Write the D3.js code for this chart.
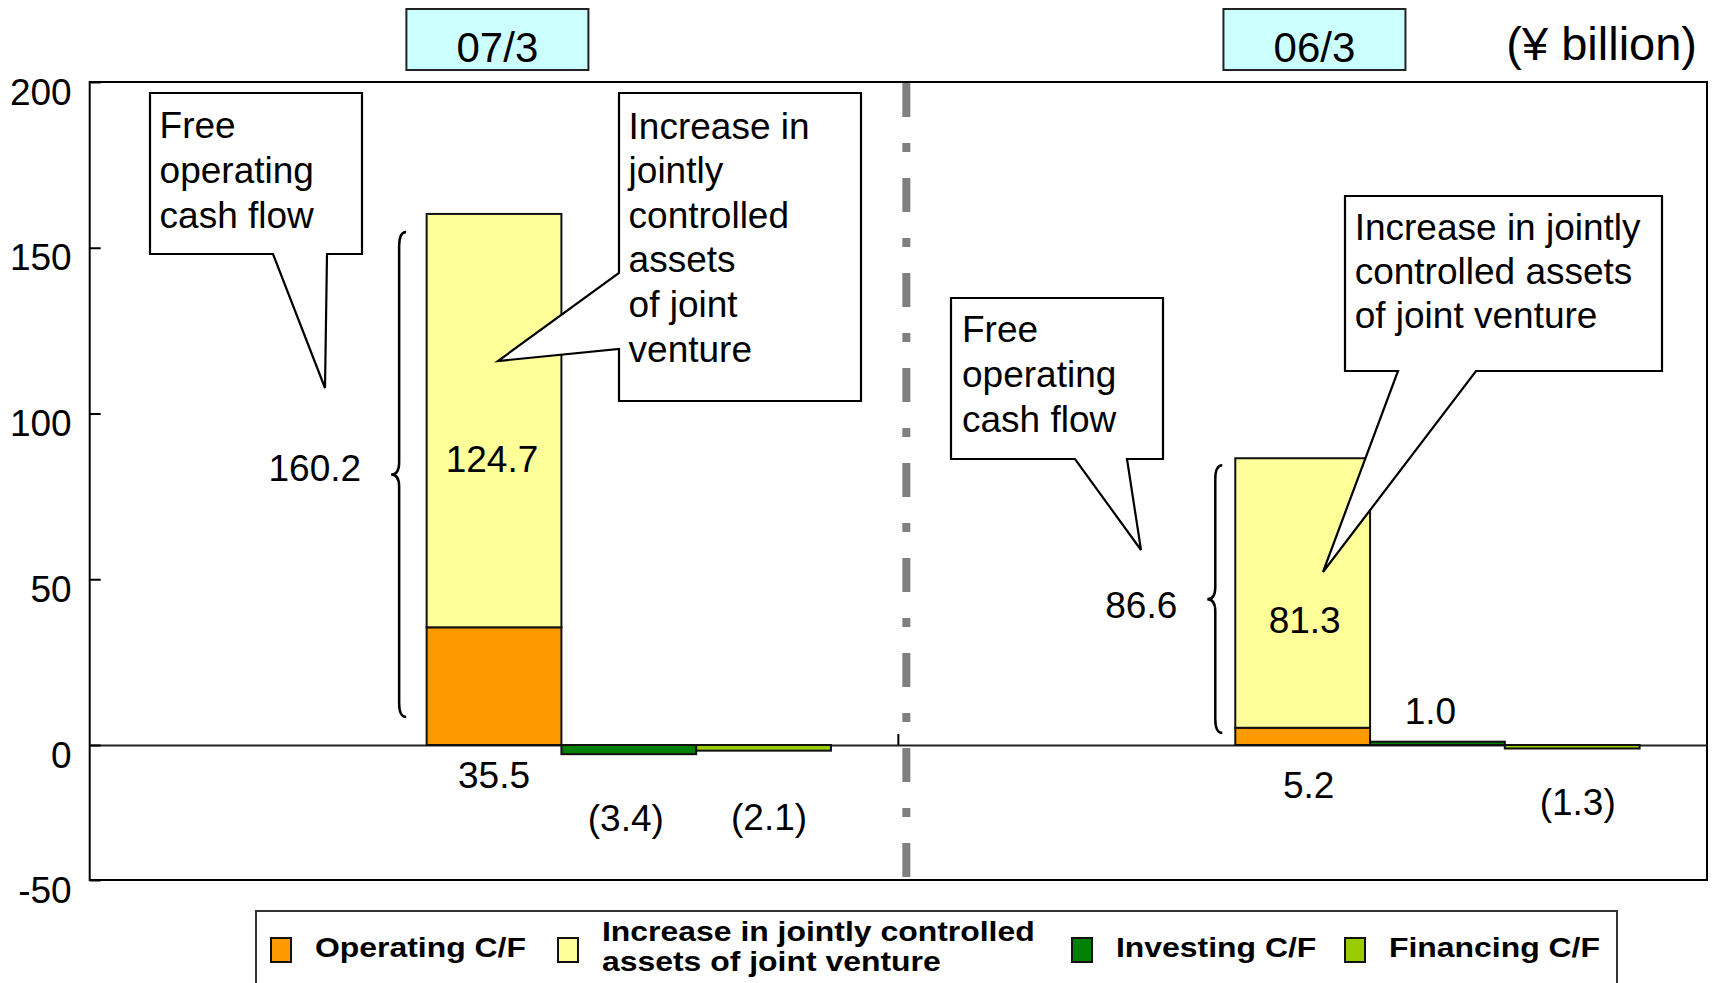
<!DOCTYPE html>
<html>
<head>
<meta charset="utf-8">
<script src="https://cdn.jsdelivr.net/npm/d3@7"></script>
<style>
  html, body { margin: 0; padding: 0; background: #fff; }
  svg { display: block; }
  text { font-family: "Liberation Sans", Arial, sans-serif; fill: #000; }
</style>
</head>
<body>
<svg id="chart" width="1715" height="983"></svg>
<script>
// ---------------- DATA ----------------
const periods = ["07/3", "06/3"];
const operatingCF = [35.5, 5.2];
const jvAssetIncrease = [124.7, 81.3];
const investingCF = [-3.4, 1.0];
const financingCF = [-2.1, -1.3];
const freeOperatingCF = [160.2, 86.6];
const yTickValues = [-50, 0, 50, 100, 150, 200];
const barSlots = ["stack", "investing", "financing"];
const unitLabel = "(¥ billion)";
const legendNames = [["Operating C/F"], ["Increase in jointly controlled", "assets of joint venture"], ["Investing C/F"], ["Financing C/F"]];
const focfCalloutText = ["Free", "operating", "cash flow"];
const jvCalloutText = [
  ["Increase in", "jointly", "controlled", "assets", "of joint", "venture"],
  ["Increase in jointly", "controlled assets", "of joint venture"]
];

// ---------------- STYLE / LAYOUT ----------------
const colors = { op: "#FF9900", jv: "#FFFF99", inv: "#008000", fin: "#99CC00" };
const legendColors = [colors.op, colors.jv, colors.inv, colors.fin];
const P = { left: 89.7, right: 1707, top: 82, zero: 745, bottom: 880 };
const FS = 37;

// per-period label / brace layout (pixel offsets)
const lay = [
  { boxDx: 407.7, braceDx: -20.5, braceTop: 18, braceBot: -28,
    totalDy: 2, jv: [-2, 51], op: [0, 42.5], inv: [-3, 86, "zero"], fin: [5.5, 85, "zero"] },
  { boxDx: 416.1, braceDx: -13, braceTop: 7, braceBot: -12,
    totalDy: 17, jv: [2, 40], op: [6, 53], inv: [-7, -18, "value"], fin: [5.5, 70, "zero"] }
];

// callout shapes (annotation geometry, pixels)
const callouts = [
  { pts: [[150,93],[362,93],[362,254],[327,254],[325,388],[273,254],[150,254]],
    text: focfCalloutText, tx: 159.6, ty: 138, lh: 45 },
  { pts: [[619,93],[861,93],[861,401],[619,401],[619,349],[498,361],[619,273]],
    text: jvCalloutText[0], tx: 628.6, ty: 138.5, lh: 44.6 },
  { pts: [[951,298],[1163,298],[1163,459],[1127,459],[1141,550],[1075,459],[951,459]],
    text: focfCalloutText, tx: 962, ty: 341.5, lh: 45 },
  { pts: [[1345,196],[1662,196],[1662,371],[1476,371],[1323,572],[1398,371],[1345,371]],
    text: jvCalloutText[1], tx: 1354.7, ty: 240, lh: 44 }
];

// ---------------- SCALES ----------------
const svg = d3.select("#chart");
const y = d3.scaleLinear().domain([-50, 0, 200]).range([P.bottom, P.zero, P.top]);
const xOuter = d3.scaleBand().domain(periods).range([P.left, P.right]).padding(0);
const bw = xOuter.bandwidth();
const xInner = d3.scaleBand().domain(barSlots).range([bw * 2.5 / 6, bw * 5.5 / 6]).padding(0);

const fmt = v => v < 0 ? "(" + Math.abs(v).toFixed(1) + ")" : v.toFixed(1);

// ---------------- FRAME ----------------
svg.append("rect").attr("x", P.left).attr("y", P.top)
  .attr("width", P.right - P.left).attr("height", P.bottom - P.top)
  .attr("fill", "#fff").attr("stroke", "#000").attr("stroke-width", 2);

// zero line (x axis)
const xAxisG = svg.append("g").attr("transform", `translate(0,${y(0)})`)
  .call(d3.axisBottom(xOuter).tickValues([]).tickSizeOuter(0));
xAxisG.select(".domain").attr("stroke", "#222").attr("stroke-width", 2);
// boundary tick between periods
svg.selectAll(".bound").data(periods.slice(1)).enter().append("line")
  .attr("x1", d => xOuter(d)).attr("x2", d => xOuter(d))
  .attr("y1", y(0)).attr("y2", y(0) - 11).attr("stroke", "#000").attr("stroke-width", 2);

// y axis
const yAxisG = svg.append("g").attr("transform", `translate(${P.left},0)`)
  .call(d3.axisLeft(y).tickValues(yTickValues).tickSize(-11).tickPadding(18).tickFormat(d => String(d)));
yAxisG.select(".domain").remove();
yAxisG.selectAll(".tick line").attr("stroke", "#000").attr("stroke-width", 2);
yAxisG.selectAll(".tick text").attr("font-size", FS).attr("dy", "0.6em")
  .attr("font-family", "'Liberation Sans', Arial, sans-serif").attr("fill", "#000");

// divider (dash-dot)
svg.append("line")
  .attr("x1", xOuter(periods[1]) + 8).attr("x2", xOuter(periods[1]) + 8)
  .attr("y1", P.top + 1).attr("y2", P.bottom - 1)
  .attr("stroke", "#808080").attr("stroke-width", 8)
  .attr("stroke-dasharray", "34,26,9,26");

// ---------------- BARS ----------------
const rows = [];
periods.forEach((p, i) => {
  const x0 = xOuter(p);
  rows.push({ p, i, x: x0 + xInner("stack"), v0: 0, v1: operatingCF[i], fill: colors.op });
  rows.push({ p, i, x: x0 + xInner("stack"), v0: operatingCF[i], v1: operatingCF[i] + jvAssetIncrease[i], fill: colors.jv });
  rows.push({ p, i, x: x0 + xInner("investing"), v0: 0, v1: investingCF[i], fill: colors.inv });
  rows.push({ p, i, x: x0 + xInner("financing"), v0: 0, v1: financingCF[i], fill: colors.fin });
});
svg.append("g").selectAll("rect").data(rows).enter().append("rect")
  .attr("x", d => d.x).attr("width", xInner.bandwidth())
  .attr("y", d => Math.min(y(d.v0), y(d.v1)))
  .attr("height", d => Math.abs(y(d.v1) - y(d.v0)))
  .attr("fill", d => d.fill).attr("stroke", "#111").attr("stroke-width", 2);

// ---------------- BRACES & LABELS ----------------
function bracePath(xEnd, top, bottom) {
  const xV = xEnd - 7, xT = xEnd - 15, mid = (top + bottom) / 2;
  return `M${xEnd},${top} Q${xV},${top} ${xV},${top + 14} L${xV},${mid - 12} Q${xV},${mid} ${xT},${mid} ` +
         `Q${xV},${mid} ${xV},${mid + 12} L${xV},${bottom - 14} Q${xV},${bottom} ${xEnd},${bottom}`;
}

const labG = svg.append("g").attr("font-size", FS);
periods.forEach((p, i) => {
  const L = lay[i];
  const x0 = xOuter(p);
  const sx = x0 + xInner("stack"), cx = sx + xInner.bandwidth() / 2;
  const total = operatingCF[i] + jvAssetIncrease[i];
  const bTop = y(total) + L.braceTop, bBot = y(0) + L.braceBot;
  const xEnd = sx + L.braceDx;
  svg.append("path").attr("d", bracePath(xEnd, bTop, bBot))
    .attr("fill", "none").attr("stroke", "#000").attr("stroke-width", 2.5);

  labG.append("text").attr("x", xEnd - 15 - 30).attr("y", y(freeOperatingCF[i] / 2) + L.totalDy)
    .attr("text-anchor", "end").text(fmt(freeOperatingCF[i]));
  labG.append("text").attr("x", cx + L.jv[0])
    .attr("y", y(operatingCF[i] + jvAssetIncrease[i] / 2) + L.jv[1])
    .attr("text-anchor", "middle").text(fmt(jvAssetIncrease[i]));
  labG.append("text").attr("x", cx + L.op[0]).attr("y", y(0) + L.op[1])
    .attr("text-anchor", "middle").text(fmt(operatingCF[i]));
  const icx = x0 + xInner("investing") + xInner.bandwidth() / 2;
  labG.append("text").attr("x", icx + L.inv[0])
    .attr("y", (L.inv[2] === "zero" ? y(0) : y(investingCF[i])) + L.inv[1])
    .attr("text-anchor", "middle").text(fmt(investingCF[i]));
  const fcx = x0 + xInner("financing") + xInner.bandwidth() / 2;
  labG.append("text").attr("x", fcx + L.fin[0])
    .attr("y", (L.fin[2] === "zero" ? y(0) : y(financingCF[i])) + L.fin[1])
    .attr("text-anchor", "middle").text(fmt(financingCF[i]));

  const bcx = x0 + L.boxDx;
  svg.append("rect").attr("x", bcx - 91).attr("y", 9).attr("width", 182).attr("height", 61)
    .attr("fill", "#CCFFFF").attr("stroke", "#222").attr("stroke-width", 2);
  svg.append("text").attr("x", bcx).attr("y", 61.5).attr("text-anchor", "middle")
    .attr("font-size", 42).text(p);
});

// unit label
svg.append("text").attr("x", 1697).attr("y", 60).attr("text-anchor", "end")
  .attr("font-size", 47).text(unitLabel);

// ---------------- CALLOUTS ----------------
callouts.forEach(c => {
  svg.append("path").attr("d", "M" + c.pts.map(p => p.join(",")).join("L") + "Z")
    .attr("fill", "#fff").attr("stroke", "#000").attr("stroke-width", 2.2)
    .attr("stroke-linejoin", "miter");
  const t = svg.append("text").attr("font-size", FS);
  c.text.forEach((line, k) => {
    t.append("tspan").attr("x", c.tx).attr("y", c.ty + k * c.lh).text(line);
  });
});

// ---------------- LEGEND ----------------
const lg = svg.append("g");
lg.append("rect").attr("x", 256).attr("y", 911).attr("width", 1361).attr("height", 120)
  .attr("fill", "#fff").attr("stroke", "#333").attr("stroke-width", 2);
const legendX = [271, 558, 1072, 1345];
legendNames.forEach((lines, k) => {
  lg.append("rect").attr("x", legendX[k]).attr("y", 938).attr("width", 20).attr("height", 24)
    .attr("fill", legendColors[k]).attr("stroke", "#111").attr("stroke-width", 2);
  const baseY = lines.length === 1 ? 957 : 941;
  lines.forEach((ln, j) => {
    lg.append("text").attr("font-size", 28).attr("font-weight", "bold")
      .attr("transform", `translate(${legendX[k] + 44},${baseY + j * 30}) scale(1.14,1)`)
      .attr("x", 0).attr("y", 0).text(ln);
  });
});
</script>
</body>
</html>
